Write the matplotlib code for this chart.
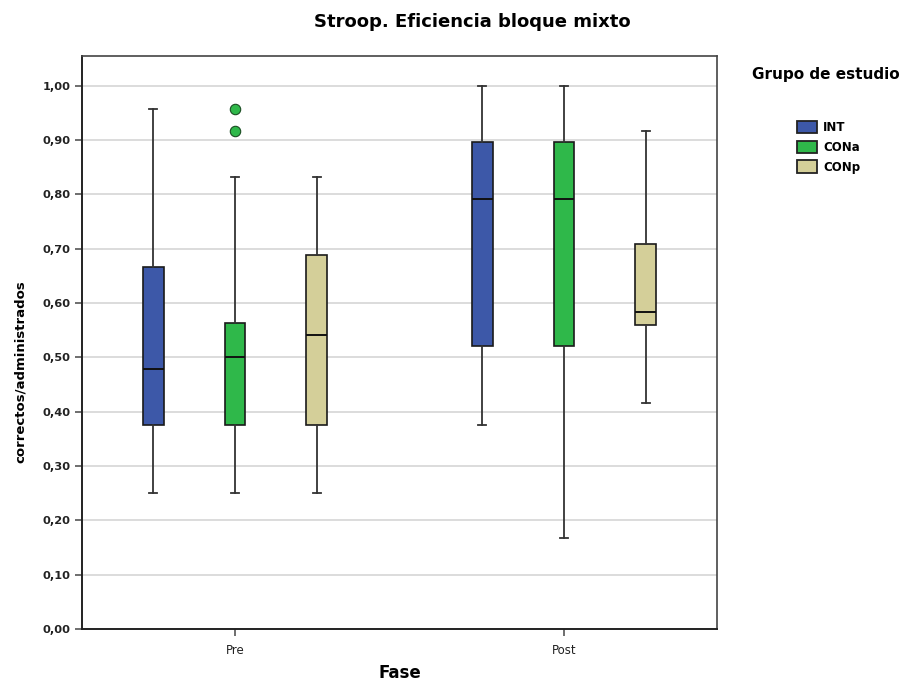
import matplotlib.pyplot as plt
from matplotlib.patches import Patch

phases = ["Pre", "Post"]
groups = ["INT", "CONa", "CONp"]
colors = ["#3d58a8", "#2fb84a", "#d4cf99"]

# box statistics per group (INT, CONa, CONp)
pre_low = [0.250, 0.250, 0.250]
pre_q1 = [0.375, 0.375, 0.375]
pre_med = [0.479, 0.500, 0.542]
pre_q3 = [0.667, 0.563, 0.688]
pre_high = [0.958, 0.833, 0.833]
pre_fliers = [[], [0.958, 0.917], []]

post_low = [0.375, 0.167, 0.417]
post_q1 = [0.521, 0.521, 0.560]
post_med = [0.792, 0.792, 0.583]
post_q3 = [0.896, 0.896, 0.708]
post_high = [1.000, 1.000, 0.917]
post_fliers = [[], [], []]

yticks = [0.0, 0.1, 0.2, 0.3, 0.4, 0.5, 0.6, 0.7, 0.8, 0.9, 1.0]


def make_stats(low, q1, med, q3, high, fliers):
    return [dict(whislo=low[i], q1=q1[i], med=med[i], q3=q3[i],
                 whishi=high[i], fliers=fliers[i]) for i in range(len(low))]


fig = plt.figure(figsize=(9.17, 6.81), dpi=100)
ax = fig.add_axes([82 / 917, 1 - 629 / 681, 635 / 917, 573 / 681])

offset = 0.248
width = 0.063
all_stats = [make_stats(pre_low, pre_q1, pre_med, pre_q3, pre_high, pre_fliers),
             make_stats(post_low, post_q1, post_med, post_q3, post_high, post_fliers)]

for p, stats in enumerate(all_stats):
    for g, st in enumerate(stats):
        pos = p + (g - 1) * offset
        ax.bxp([st], positions=[pos], widths=width, patch_artist=True,
               capwidths=0.024,
               boxprops=dict(facecolor=colors[g], edgecolor="#1a1a1a", linewidth=1.2),
               medianprops=dict(color="#111111", linewidth=1.4),
               whiskerprops=dict(color="#333333", linewidth=1.3),
               capprops=dict(color="#333333", linewidth=1.3),
               flierprops=dict(marker="o", markerfacecolor=colors[g],
                               markeredgecolor="#1a4d22", markersize=7.5,
                               markeredgewidth=0.8),
               manage_ticks=False, zorder=3)

ax.set_xlim(-0.465, 1.465)
ax.set_ylim(0, 1.055)
ax.set_xticks(range(len(phases)))
ax.set_xticklabels(phases, fontsize=8.5, color="#222222")
ax.set_yticks(yticks)
ax.set_yticklabels([f"{v:.2f}".replace(".", ",") for v in yticks],
                   fontsize=8.2, fontweight="bold", color="#222222")
ax.tick_params(axis="both", direction="out", length=5, width=1.2, color="#555555")
ax.tick_params(axis="x", pad=6)
ax.yaxis.grid(True, color="#dcdcdc", linewidth=1.4)
ax.set_axisbelow(True)

for side in ["left", "bottom"]:
    ax.spines[side].set_color("#222222")
    ax.spines[side].set_linewidth(1.4)
for side in ["top", "right"]:
    ax.spines[side].set_color("#444444")
    ax.spines[side].set_linewidth(1.2)

ax.set_xlabel("Fase", fontsize=12, fontweight="bold")
ax.xaxis.set_label_coords(0.5, -(673 - 629) / 573)
ax.xaxis.label.set_va("center")
ax.set_ylabel("correctos/administrados", fontsize=9.5, fontweight="bold")
ax.yaxis.set_label_coords(-0.087, 0.45)

fig.text(472 / 917, 1 - 22 / 681, "Stroop. Eficiencia bloque mixto",
         ha="center", va="center", fontsize=13, fontweight="bold")

# legend: title drawn as text, entries indented below it
fig.text(752 / 917, 1 - 75 / 681, "Grupo de estudio", ha="left", va="center",
         fontsize=11, fontweight="bold")
handles = [Patch(facecolor=c, edgecolor="#222222", linewidth=1.3) for c in colors]
fig.legend(handles, groups, loc="upper left",
           bbox_to_anchor=(797 / 917, 1 - 121 / 681), frameon=False,
           prop=dict(size=8.5, weight="bold"), handlelength=1.7,
           handleheight=1.25, handletextpad=0.5, labelspacing=0.55,
           borderpad=0, borderaxespad=0)

fig.savefig("out.png", dpi=100)
